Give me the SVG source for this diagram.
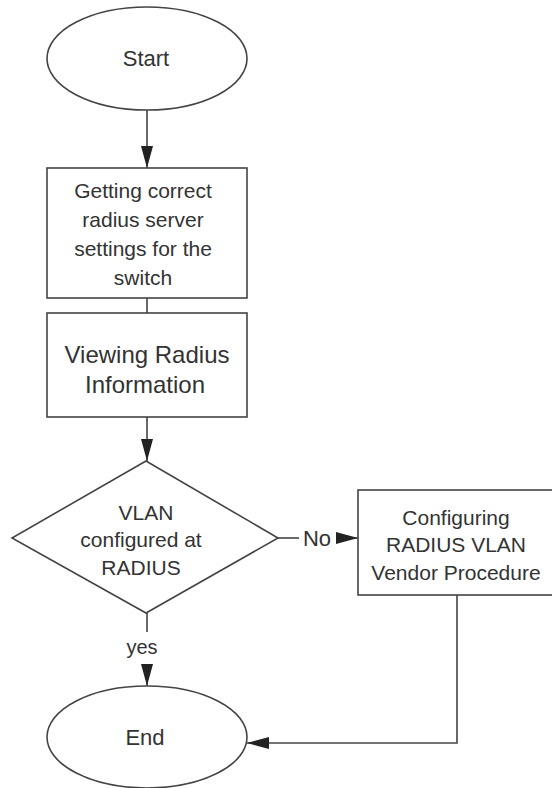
<svg xmlns="http://www.w3.org/2000/svg" width="552" height="788" viewBox="0 0 552 788">
<style>
.shape{fill:#fff;stroke:#444;stroke-width:1.6}
.conn{fill:none;stroke:#444;stroke-width:1.6}
text{font-family:"Liberation Sans",Arial,sans-serif;fill:#333;text-anchor:middle}
.t21{font-size:21px}
.t24{font-size:24px}
.t22{font-size:22px}
</style>
<defs>
<marker id="ah" markerUnits="userSpaceOnUse" markerWidth="22" markerHeight="12" refX="22" refY="6" orient="auto">
<path d="M0,0 L22,6 L0,12 z" fill="#222"/>
</marker>
</defs>
<rect width="552" height="788" fill="#fff"/>
<g id="connectors">
<line class="conn" x1="147" y1="110" x2="147" y2="168" marker-end="url(#ah)"/>
<line class="conn" x1="147" y1="298" x2="147" y2="313"/>
<line class="conn" x1="147" y1="417" x2="147" y2="461" marker-end="url(#ah)"/>
<line class="conn" x1="278" y1="538" x2="299" y2="538"/>
<text class="t22" x="317" y="546">No</text>
<line class="conn" x1="336" y1="538" x2="358" y2="538" marker-end="url(#ah)"/>
<line class="conn" x1="147" y1="613" x2="147" y2="632"/>
<text x="142" y="654" style="font-size:20px">yes</text>
<line class="conn" x1="147" y1="664" x2="147" y2="686" marker-end="url(#ah)"/>
<polyline class="conn" points="457,595 457,743 247,743" marker-end="url(#ah)"/>
</g>
<g id="start">
<ellipse class="shape" cx="147" cy="58.5" rx="100" ry="51.5"/>
<text class="t22" x="146" y="66">Start</text>
</g>
<g id="getting">
<rect class="shape" x="47" y="168" width="200" height="130"/>
<text class="t21" x="143" y="198">Getting correct</text>
<text class="t21" x="143" y="227">radius server</text>
<text class="t21" x="143" y="256">settings for the</text>
<text class="t21" x="143" y="285">switch</text>
</g>
<g id="viewing">
<rect class="shape" x="47" y="313" width="200" height="104"/>
<text class="t24" x="147" y="363">Viewing Radius</text>
<text class="t24" x="145" y="393">Information</text>
</g>
<g id="decision">
<polygon class="shape" points="146,461 278,538 146,613 12,538"/>
<text class="t21" x="146" y="520">VLAN</text>
<text class="t21" x="141" y="547">configured at</text>
<text class="t21" x="141" y="575">RADIUS</text>
</g>
<g id="configuring">
<rect class="shape" x="358" y="490" width="200" height="105"/>
<text class="t21" x="456" y="525">Configuring</text>
<text class="t21" x="456" y="552">RADIUS VLAN</text>
<text class="t21" x="456" y="580">Vendor Procedure</text>
</g>
<g id="end">
<ellipse class="shape" cx="147" cy="737" rx="100" ry="51"/>
<text class="t22" x="145" y="745">End</text>
</g>
</svg>
